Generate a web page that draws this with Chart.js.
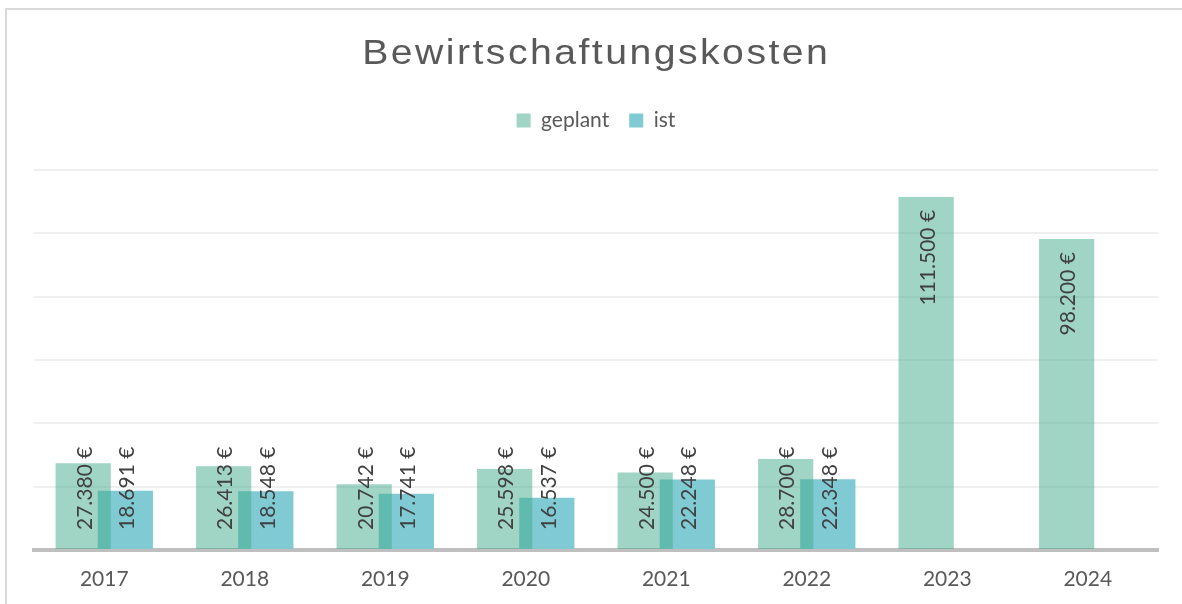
<!DOCTYPE html>
<html lang="de">
<head>
<meta charset="utf-8">
<title>Bewirtschaftungskosten</title>
<script src="https://cdn.jsdelivr.net/npm/chart.js@4.4.1/dist/chart.umd.min.js"></script>
<style>
  html, body { margin: 0; padding: 0; background: #fff; }
  #wrap { position: relative; width: 1182px; height: 604px; overflow: hidden; }
  #frame { position: absolute; left: 5px; top: 8px; width: 1200px; height: 700px;
           border-left: 2px solid #d9d9d9; border-top: 2px solid #d9d9d9; }
  canvas { position: absolute; left: 0; top: 0; }
</style>
</head>
<body>
<div id="wrap">
  <div id="frame"></div>
  <canvas id="chart" width="1182" height="604"></canvas>
</div>
<script>
// Chart data
const titleText = 'Bewirtschaftungskosten';
const years = ['2017', '2018', '2019', '2020', '2021', '2022', '2023', '2024'];
const geplant = [27380, 26413, 20742, 25598, 24500, 28700, 111500, 98200];
const ist = [18691, 18548, 17741, 16537, 22248, 22348, null, null];
const seriesNames = ['geplant', 'ist'];
const yMax = 120000;
const yStep = 20000;

// German number format: 27.380 €
function euro(v) {
  return String(v).replace(/\B(?=(\d{3})+(?!\d))/g, '.') + ' €';
}

// Title drawn by hand so the wide letter spacing can be matched
const titlePlugin = {
  id: 'wideTitle',
  afterDraw(chart) {
    const ctx = chart.ctx;
    const scaleX = 1.12;
    const spacing = 2.2;
    ctx.save();
    ctx.font = '35px "Liberation Sans", Arial, sans-serif';
    ctx.letterSpacing = spacing + 'px';
    ctx.fillStyle = '#595959';
    ctx.textAlign = 'left';
    ctx.textBaseline = 'alphabetic';
    const w = ctx.measureText(titleText).width - spacing;
    ctx.translate(595, 64);
    ctx.scale(scaleX, 1);
    ctx.fillText(titleText, -w / 2, 0);
    ctx.restore();
  }
};

// Extra room between the legend and the plot area
const legendGap = {
  id: 'legendGap',
  afterInit(chart) {
    const fit = chart.legend.fit;
    chart.legend.fit = function () {
      fit.call(this);
      this.height += 29;
    };
  }
};

// Rotated value labels at the top of each bar
const barLabels = {
  id: 'barLabels',
  afterDatasetsDraw(chart) {
    const ctx = chart.ctx;
    ctx.save();
    ctx.font = '21px Lato, "Open Sans", sans-serif';
    ctx.fillStyle = '#404040';
    ctx.textAlign = 'right';
    ctx.textBaseline = 'middle';
    chart.data.datasets.forEach((ds, di) => {
      const meta = chart.getDatasetMeta(di);
      meta.data.forEach((bar, i) => {
        const v = ds.data[i];
        if (v === null || v === undefined) return;
        const text = euro(v);
        const len = ctx.measureText(text).width;
        const endY = Math.min(bar.y + 13, bar.base - 19 - len);
        ctx.save();
        ctx.translate(bar.x + 2, endY);
        ctx.rotate(-Math.PI / 2);
        ctx.fillText(text, 0, 0);
        ctx.restore();
      });
    });
    ctx.restore();
  }
};

const ctx = document.getElementById('chart').getContext('2d');
window.myChart = new Chart(ctx, {
  type: 'bar',
  data: {
    labels: years,
    datasets: [
      {
        label: seriesNames[0],
        data: geplant,
        backgroundColor: 'rgba(65,169,137,0.5)',
        borderWidth: 0,
        categoryPercentage: 0.6,
        barPercentage: 1.31
      },
      {
        label: seriesNames[1],
        data: ist,
        backgroundColor: '#80cad3',
        borderWidth: 0,
        categoryPercentage: 0.6,
        barPercentage: 1.31
      }
    ]
  },
  options: {
    responsive: false,
    animation: false,
    layout: { padding: { top: 90, left: 34, right: 24, bottom: 0 } },
    plugins: {
      title: { display: false },
      tooltip: { enabled: false },
      legend: {
        display: true,
        position: 'top',
        labels: {
          boxWidth: 14,
          boxHeight: 14,
          padding: 20,
          color: '#595959',
          font: { family: 'Lato, "Open Sans", sans-serif', size: 21 }
        }
      }
    },
    scales: {
      x: {
        z: 1,
        grid: { display: true, color: 'rgba(0,0,0,0)', drawTicks: false },
        border: { display: true, color: '#bfbfbf', width: 4 },
        ticks: {
          color: '#595959',
          padding: 17,
          font: { family: 'Lato, "Open Sans", sans-serif', size: 21 }
        },
        afterFit(scale) {
          scale.height = 54;
        }
      },
      y: {
        min: 0,
        max: yMax,
        ticks: { display: false, stepSize: yStep },
        border: { display: false },
        grid: {
          drawTicks: false,
          lineWidth: 2,
          color: (c) => (c.tick && c.tick.value === 0 ? 'rgba(0,0,0,0)' : '#efefef')
        }
      }
    }
  },
  plugins: [titlePlugin, legendGap, barLabels]
});
</script>
</body>
</html>
